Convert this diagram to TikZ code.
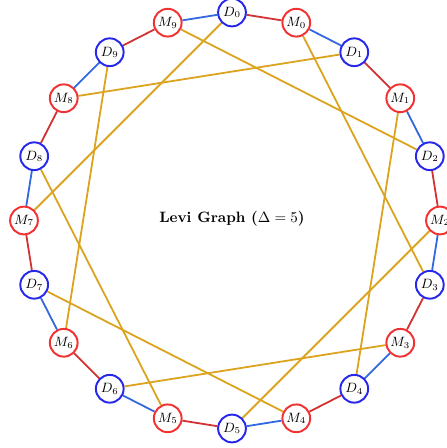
\documentclass[tikz,border=0pt]{standalone}
\usepackage{tikz}
\usetikzlibrary{backgrounds}
\definecolor{dnode}{RGB}{40,40,235}
\definecolor{mnode}{RGB}{240,50,50}
\definecolor{redge}{RGB}{210,50,50}
\definecolor{bedge}{RGB}{50,105,225}
\definecolor{gedge}{RGB}{220,163,30}
\tikzset{
  dv/.style={circle,draw=dnode,line width=1.3pt,fill=white,minimum size=18.5pt,inner sep=0pt,font=\small},
  mv/.style={circle,draw=mnode,line width=1.3pt,fill=white,minimum size=18.5pt,inner sep=0pt,font=\small},
  redline/.style={draw=redge,line width=1.2pt},
  blueline/.style={draw=bedge,line width=1.2pt},
  chord/.style={draw=gedge,line width=1.2pt},
}
\begin{document}
\begin{tikzpicture}[x=0.6667pt,y=-0.6667pt]
\useasboundingbox (0,0) rectangle (447,448);
\clip (0,0) rectangle (447,448);
\foreach \i in {0,...,9}{
  \pgfmathsetmacro{\ad}{90-36*\i}
  \pgfmathsetmacro{\am}{72-36*\i}
  \node[dv] (D\i) at ({232+208*cos(\ad)},{220.5-208*sin(\ad)}) {$D_{\i}$};
  \node[mv] (M\i) at ({232+208*cos(\am)},{220.5-208*sin(\am)}) {$M_{\i}$};
}
\node (title) at (232,219) {\textbf{Levi Graph ($\Delta=5$)}};
\begin{pgfonlayer}{background}
\foreach \i in {0,...,9}{
  \pgfmathtruncatemacro{\c}{mod(\i+3,10)}
  \draw[chord] (M\i) -- (D\c);
}
\foreach \i in {0,...,9}{
  \pgfmathtruncatemacro{\n}{mod(\i+1,10)}
  \draw[redline] (D\i) -- (M\i);
  \draw[blueline] (M\i) -- (D\n);
}
\end{pgfonlayer}
\end{tikzpicture}
\end{document}
